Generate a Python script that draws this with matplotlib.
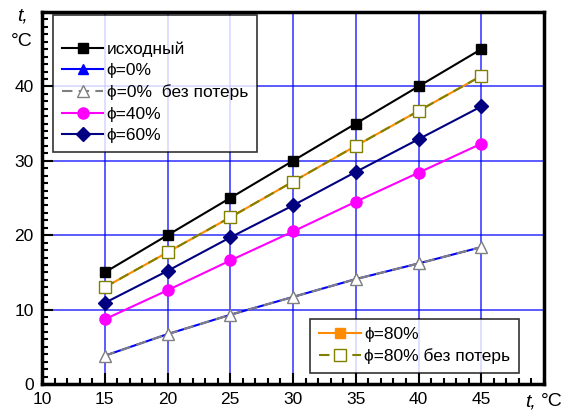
import matplotlib.pyplot as plt
from matplotlib.ticker import MultipleLocator

plt.rcParams['font.family'] = ['Liberation Sans', 'DejaVu Sans']

x = [15, 20, 25, 30, 35, 40, 45]
base = [15, 20, 25, 30, 35, 40, 45]
phi0 = [3.8, 6.7, 9.3, 11.7, 14.1, 16.2, 18.4]
phi0_nl = [3.8, 6.7, 9.3, 11.7, 14.1, 16.2, 18.4]
phi40 = [8.7, 12.6, 16.6, 20.5, 24.5, 28.4, 32.3]
phi60 = [10.9, 15.2, 19.7, 24.0, 28.5, 32.9, 37.3]
phi80 = [13.0, 17.7, 22.4, 27.2, 32.0, 36.7, 41.4]
phi80_nl = [13.0, 17.7, 22.4, 27.2, 32.0, 36.7, 41.4]

fig = plt.figure(figsize=(5.72, 4.16), dpi=100)
ax = fig.add_axes([42/572, 1 - 384/416, 502/572, 372/416])

l1, = ax.plot(x, base, color="black", marker="s", ms=6.5, lw=1.5, label="исходный")
l2, = ax.plot(x, phi0, color="blue", marker="^", ms=7, lw=1.5, label="ϕ=0%")
l3, = ax.plot(x, phi0_nl, color="gray", ls=(0, (5, 3)), marker="^", ms=9, mfc="white",
              mec="gray", mew=1, lw=1.5, label="ϕ=0%  без потерь")
l4, = ax.plot(x, phi40, color="magenta", marker="o", ms=8, lw=1.5, label="ϕ=40%")
l5, = ax.plot(x, phi60, color="navy", marker="D", ms=7, lw=1.5, label="ϕ=60%")
l6, = ax.plot(x, phi80, color="darkorange", marker="s", ms=7, lw=1.5, label="ϕ=80%")
l7, = ax.plot(x, phi80_nl, color="olive", ls=(0, (5, 3)), marker="s", ms=9, mfc="white",
              mec="olive", mew=1, lw=1.5, label="ϕ=80% без потерь")

ax.set_xlim(10, 50)
ax.set_ylim(0, 50)
ax.xaxis.set_minor_locator(MultipleLocator(1))
ax.yaxis.set_minor_locator(MultipleLocator(1))
ax.set_xticks([10, 15, 20, 25, 30, 35, 40, 45])
ax.set_yticks([0, 10, 20, 30, 40])
ax.tick_params(which="both", direction="in", width=1.5, labelsize=12.5, top=False, right=False)
ax.tick_params(which="major", length=8, pad=6)
ax.tick_params(which="minor", length=4)
ax.grid(True, which="major", color="blue", lw=1.2, alpha=0.75)
ax.set_axisbelow(True)
for s in ax.spines.values():
    s.set_linewidth(2.5)

# подписи осей
fig.text(22/572, 1 - 16/416, "t,", fontsize=14, style="italic", ha="center", va="center")
fig.text(22/572, 1 - 42/416, "°C", fontsize=14, ha="center", va="center")
fig.text(530/572, 1 - 402/416, "t,", fontsize=14, style="italic", ha="center", va="center")
fig.text(552/572, 1 - 402/416, "°C", fontsize=14, ha="center", va="center")

leg1 = ax.legend(handles=[l1, l2, l3, l4, l5], loc="upper left",
                 bbox_to_anchor=((53 - 42) / 502, (384 - 15) / 372), title=" ",
                 fontsize=12.5, title_fontsize=9, frameon=True, fancybox=False,
                 edgecolor="black", handlelength=2.4, handletextpad=0.2,
                 labelspacing=0.35, borderaxespad=0, borderpad=0.5)
leg1.get_frame().set_linewidth(1.2)
ax.add_artist(leg1)
leg2 = ax.legend(handles=[l6, l7], loc="lower right",
                 bbox_to_anchor=((519 - 42) / 502, (384 - 373) / 372),
                 fontsize=12.5, frameon=True, fancybox=False, edgecolor="black",
                 handlelength=2.4, handletextpad=0.2, labelspacing=0.35,
                 borderaxespad=0, borderpad=0.5)
leg2.get_frame().set_linewidth(1.2)

fig.savefig("out.png", dpi=100)
